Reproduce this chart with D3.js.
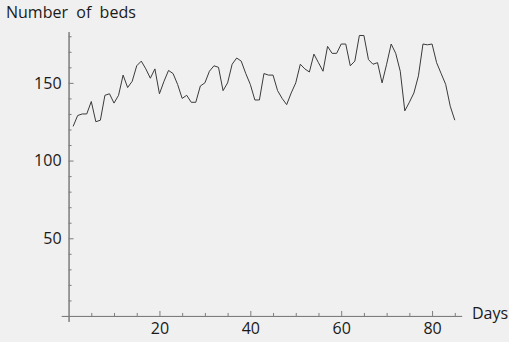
<!DOCTYPE html>
<html>
<head>
<meta charset="utf-8">
<script src="https://cdn.jsdelivr.net/npm/d3@7"></script>
<style>
  html, body { margin: 0; padding: 0; background: #f0f0f0; }
  svg { display: block; }
  text { font-family: "Open Sans", sans-serif; fill: #1a1a1a; }
</style>
</head>
<body>
<svg id="chart" width="509" height="342"></svg>
<script>
// Daily count of occupied beds
const days = d3.range(1, 86);
const beds = [
  122, 129, 130, 130, 138, 125, 126, 142, 143, 137,
  142, 155, 147, 151, 161, 164, 159, 153, 159, 143,
  151, 158, 156, 149, 140, 142, 137.5, 137.5, 148, 150,
  157.5, 161, 160, 145, 150, 162, 166, 164, 156, 149,
  139, 139, 156, 155, 155, 145, 140, 136, 143.5, 150,
  162, 159, 157, 168.5, 163, 157.5, 173.5, 169, 169, 175,
  175, 161, 164, 180.5, 180.5, 165, 162, 163, 150, 162,
  175, 169, 157.5, 132, 137.5, 143.5, 154.5, 175, 174.5, 175,
  163, 156, 149, 135, 126
];
const xMajor = [20, 40, 60, 80];
const xMinor = [5, 10, 15, 25, 30, 35, 45, 50, 55, 65, 70, 75, 85];
const yMajor = [50, 100, 150];
const yMinor = [10, 20, 30, 40, 60, 70, 80, 90, 110, 120, 130, 140, 160, 170, 180];
const xTitle = "Days";
const yTitle = "Number\u00a0 of\u00a0 beds";

const svg = d3.select("#chart");

const x = d3.scaleLinear().domain([-1.6, 86.5]).range([61.3, 461.6]);
const y = d3.scaleLinear().domain([-3.5, 183]).range([321.4, 31.6]);

const axisColor = "#7d7d7d";

function styleAxis(g) {
  g.selectAll("path.domain").attr("stroke", axisColor).attr("stroke-width", 1);
  g.selectAll(".tick line").attr("stroke", axisColor).attr("stroke-width", 1);
  g.selectAll(".tick text")
    .attr("font-family", "'Open Sans', sans-serif")
    .attr("font-size", 16)
    .attr("fill", "#1a1a1a");
}

// x axis: minor ticks, then major ticks with labels
svg.append("g")
  .attr("transform", `translate(0,${y(0)})`)
  .call(d3.axisBottom(x).tickValues(xMinor).tickSize(-3).tickSizeOuter(0).tickFormat(""))
  .call(styleAxis);
svg.append("g")
  .attr("transform", `translate(0,${y(0)})`)
  .call(d3.axisBottom(x).tickValues(xMajor).tickSize(-5).tickSizeOuter(0).tickPadding(7))
  .call(styleAxis);

// y axis
svg.append("g")
  .attr("transform", `translate(${x(0)},0)`)
  .call(d3.axisLeft(y).tickValues(yMinor).tickSize(-3).tickSizeOuter(0).tickFormat(""))
  .call(styleAxis);
svg.append("g")
  .attr("transform", `translate(${x(0)},0)`)
  .call(d3.axisLeft(y).tickValues(yMajor).tickSize(-5).tickSizeOuter(0).tickPadding(7))
  .call(styleAxis);

// data line
const line = d3.line()
  .x((d, i) => x(days[i]))
  .y(d => y(d));

svg.append("path")
  .datum(beds)
  .attr("fill", "none")
  .attr("stroke", "#3a3a3a")
  .attr("stroke-width", 1)
  .attr("stroke-linejoin", "round")
  .attr("d", line);

// axis titles
svg.append("text")
  .attr("x", 472)
  .attr("y", 319)
  .attr("font-size", 16)
  .text(xTitle);

svg.append("text")
  .attr("x", 6)
  .attr("y", 18)
  .attr("font-size", 16)
  .text(yTitle);
</script>
</body>
</html>
